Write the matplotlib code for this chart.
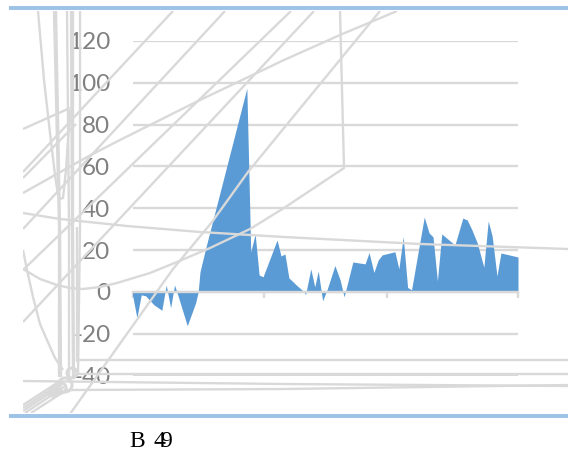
import matplotlib
matplotlib.use("Agg")
import matplotlib.pyplot as plt
from matplotlib.patches import Circle, Rectangle

W, H = 568, 454

# Chart data
day_pos = [0, 1.0, 2.0, 3.0, 4.9, 6.7, 7.7, 8.7, 9.6, 10.4, 12.5, 14.4, 15.0, 15.4, 16.6, 26.1, 27.0, 28.0, 28.9, 29.8,
           33.0, 33.9, 34.8, 35.7, 37.6, 39.2, 39.5, 40.7, 41.6, 42.4, 43.4, 44.4, 46.2, 47.4, 48.3, 50.3, 53.1, 54.0,
           55.1, 56.1, 57.0, 59.9, 60.8, 61.8, 62.8, 63.7, 66.6, 67.7, 68.6, 69.6, 70.6, 73.6, 75.4, 76.4, 77.5, 78.7,
           80.2, 81.2, 82.1, 83.2, 84.1, 88]
values = [-1.4, -12.4, -1.4, -1.9, -6.2, -8.8, 3.3, -7.6, 3.3, -1.9, -16.2, -5.3, 0, 9.5, 20, 97.4, 19.1, 27.7, 8.1, 7.2,
          24.8, 17.2, 18.1, 6.7, 2.9, 0, -1.4, 11, 2.4, 10, -4.3, 1, 12.6, 5.7, -2.4, 14.3, 13.4, 18.8,
          9.3, 15.3, 17.7, 19.2, 11, 26.4, 2.1, 1, 35.8, 28.2, 26.3, 5.3, 27.7, 22.4, 35.3, 34.4, 29.6, 23.4,
          11.8, 33.9, 26.7, 7.6, 18.6, 16.7]
x_ticks = [0, 30, 58, 88]
y_ticks = [-40, -20, 0, 20, 40, 60, 80, 100, 120]
y_labels = ["-40", "-20", "0", "20", "40", "60", "80", "100", "120"]

# Stray grey strokes that sit over the chart, as (x, y) pixel paths
stray_paths = [
    [(23, 129), (70, 108)],
    [(23, 172), (173, 11)],
    [(23, 178), (76, 124)],
    [(23, 229), (225, 11)],
    [(23, 270), (291, 11)],
    [(23, 322), (314, 11)],
    [(23, 193), (55, 175), (87, 157), (118, 141), (150, 125), (200, 100), (240, 81), (284, 60), (340, 35), (397, 11)],
    [(70, 414), (173, 269), (212, 222), (248, 172), (284, 128), (380, 11)],
    [(340, 11), (344, 168), (284, 208), (250, 229), (210, 248), (177, 262), (150, 273), (117, 283), (100, 287),
     (83, 289), (70, 288), (57, 285), (40, 279), (23, 269)],
    [(23, 213), (60, 219), (127, 226), (200, 232), (284, 237), (420, 244), (568, 249)],
    [(38, 11), (44, 80), (50, 133), (55, 175), (58, 195), (60, 199), (63, 198), (66, 170), (70, 110)],
    [(54, 11), (59, 227), (59, 377)],
    [(56, 11), (60, 227), (61, 377)],
    [(67, 11), (69, 227), (69, 378)],
    [(71, 11), (72, 227), (73, 378)],
    [(73, 11), (73, 227), (74, 378)],
    [(80, 11), (80, 227), (78, 375)],
    [(77, 227), (77, 362)],
    [(23, 250), (27, 270), (33, 297), (40, 324), (47, 340), (55, 358), (63, 370)],
    [(77, 360), (568, 360)],
    [(23, 381), (284, 384), (568, 386)],
    [(70, 390), (284, 389), (568, 385)],
    [(78, 374), (568, 374)],
    [(23, 405), (60, 381)],
    [(23, 408), (61, 383)],
    [(23, 411), (62, 385)],
    [(25, 413), (64, 387)],
    [(31, 413), (68, 389)],
]
stray_rings = [(65, 385, 7), (61, 388, 5), (72, 373, 5), (55, 391, 4), (52, 393, 3)]

GRID = "#D9D9D9"
LW = 1.7
fig = plt.figure(figsize=(W / 100, H / 100), dpi=100, facecolor="white")

ax = fig.add_axes([132.5 / W, (H - 375.5) / H, 385.5 / W, 334.5 / H])
ax.set_xlim(0, 88)
ax.set_ylim(-40, 120)
ax.fill_between(day_pos, values, 0, color="#5B9BD5", lw=0, zorder=1)
ax.set_yticks(y_ticks, y_labels, family="Lato", fontweight="normal", fontsize=17.5, color="#808080")
ax.set_xticks(x_ticks, [])
ax.grid(axis="y", color=GRID, lw=LW, zorder=0)
ax.set_axisbelow(True)
for s in ("top", "left", "right"):
    ax.spines[s].set_visible(False)
ax.spines["bottom"].set_position(("data", 0))
ax.spines["bottom"].set_color(GRID)
ax.spines["bottom"].set_linewidth(LW)
ax.tick_params(axis="y", length=0, pad=16)
ax.tick_params(axis="x", length=4, width=LW, color=GRID)

over = fig.add_axes([0, 0, 1, 1], facecolor="none")
over.set_xlim(0, W)
over.set_ylim(H, 0)
over.axis("off")
clip = Rectangle((23, 11), W - 23, 402, transform=over.transData)
for path in stray_paths:
    xs, ys = zip(*path)
    ln, = over.plot(xs, ys, color=GRID, lw=LW, solid_capstyle="butt")
    ln.set_clip_path(clip)
for cx, cy, r in stray_rings:
    over.add_patch(Circle((cx, cy), r, fill=False, ec=GRID, lw=2.2))

for top in (6, 414):
    over.add_patch(Rectangle((9, top), W - 9, 4, fc="#9DC3E6", ec="none"))

for tx, t in ((129.5, "B"), (153, "4"), (160.5, "9")):
    over.text(tx, 447, t, family="Liberation Serif", fontsize=17, color="black", ha="left", va="baseline")

fig.savefig("out.png", dpi=100, facecolor="white")
